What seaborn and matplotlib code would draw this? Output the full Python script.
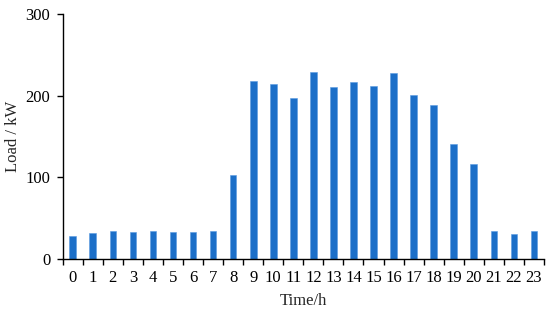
import numpy as np
import pandas as pd
import seaborn as sns
import matplotlib.pyplot as plt
from matplotlib.ticker import FixedLocator

hours = [str(h) for h in range(24)]
load_kw = [28.6, 32.2, 34.7, 33.0, 34.7, 32.7, 33.0, 34.3, 102.9, 218.0, 214.3, 196.7,
           229.4, 211.0, 216.3, 211.4, 227.3, 201.2, 188.6, 140.4, 115.9, 34.3, 30.6, 34.3]

df = pd.DataFrame({'hour': hours, 'load': load_kw})

sns.set_style('ticks')
plt.rcParams['font.family'] = ['Liberation Serif', 'DejaVu Serif']

fig = plt.figure(figsize=(5.5, 3.13), dpi=100)
ax = fig.add_axes([0.114, 0.1725, 0.875, 0.7825])

sns.barplot(x='hour', y='load', data=df, color='#1c6fc8', saturation=1,
            width=0.33, ax=ax, edgecolor='#5a9be0', linewidth=0.4)

ax.set_xlim(-0.5, 23.5)
ax.set_ylim(0, 300)
ax.set_yticks([0, 100, 200, 300])

# excel style: tick marks between the categories
ax.tick_params(axis='x', which='major', length=0, pad=8)
ax.xaxis.set_minor_locator(FixedLocator(np.arange(-0.5, 24, 1)))
ax.tick_params(axis='x', which='minor', length=4, width=1, direction='out', color='black')
ax.tick_params(axis='y', length=4, width=1, direction='out', color='black', pad=5)
ax.tick_params(labelsize=12, colors='black')

for s in ['left', 'bottom']:
    ax.spines[s].set_color('black')
    ax.spines[s].set_linewidth(1)
sns.despine(ax=ax)

ax.set_xlabel('Time/h', fontsize=12)
ax.set_ylabel('Load / kW', fontsize=12)
ax.xaxis.set_label_coords(0.5, -0.14)
ax.yaxis.set_label_coords(-0.087, 0.5)

fig.savefig('out.png', dpi=100)
